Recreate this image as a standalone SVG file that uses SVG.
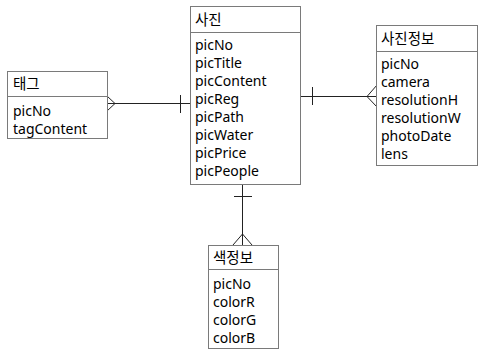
<svg xmlns="http://www.w3.org/2000/svg" width="482" height="350" viewBox="0 0 482 350">
<style>
.box{fill:#fff;stroke:#7a7a7a;stroke-width:1}
.t{font-family:"Noto Sans","Noto Sans CJK KR",sans-serif;font-size:14px;fill:#000}
.h{font-size:14.5px}
.c{fill:none;stroke:#222;stroke-width:1}
</style>
<rect width="482" height="350" fill="#fff"/>
<g id="connectors">
<path class="c" d="M107 103.5H190.5M180.5 95V113M107 96L115 103.5L107 111"/>
<path class="c" d="M300.5 96.5H377M312.5 87V105M377 85L367 96.5L377 107"/>
<path class="c" d="M242.5 184V245M234 196.5H252M233 245L242.5 234L252 245"/>
</g>
<g id="tag">
<rect class="box" x="7.5" y="71.5" width="100" height="67"/>
<line class="box" x1="7.5" y1="96.5" x2="107.5" y2="96.5"/>
<text class="t h" x="13" y="89">태그</text>
<text class="t" x="13" y="116">picNo</text>
<text class="t" x="13" y="134">tagContent</text>
</g>
<g id="photo">
<rect class="box" x="190.5" y="6.5" width="110" height="178"/>
<line class="box" x1="190.5" y1="32.5" x2="300.5" y2="32.5"/>
<text class="t h" x="195" y="25">사진</text>
<text class="t" x="195" y="50">picNo</text>
<text class="t" x="195" y="68">picTitle</text>
<text class="t" x="195" y="86">picContent</text>
<text class="t" x="195" y="104">picReg</text>
<text class="t" x="195" y="122">picPath</text>
<text class="t" x="195" y="140">picWater</text>
<text class="t" x="195" y="158">picPrice</text>
<text class="t" x="195" y="176">picPeople</text>
</g>
<g id="photoinfo">
<rect class="box" x="376.5" y="25.5" width="101" height="140"/>
<line class="box" x1="376.5" y1="51.5" x2="477.5" y2="51.5"/>
<text class="t h" x="381" y="44">사진정보</text>
<text class="t" x="381" y="69">picNo</text>
<text class="t" x="381" y="87">camera</text>
<text class="t" x="381" y="105">resolutionH</text>
<text class="t" x="381" y="123">resolutionW</text>
<text class="t" x="381" y="141">photoDate</text>
<text class="t" x="381" y="159">lens</text>
</g>
<g id="color">
<rect class="box" x="208.5" y="245.5" width="70" height="103"/>
<line class="box" x1="208.5" y1="269.5" x2="278.5" y2="269.5"/>
<text class="t h" x="213" y="263">색정보</text>
<text class="t" x="213" y="289">picNo</text>
<text class="t" x="213" y="307">colorR</text>
<text class="t" x="213" y="325">colorG</text>
<text class="t" x="213" y="343">colorB</text>
</g>
</svg>
